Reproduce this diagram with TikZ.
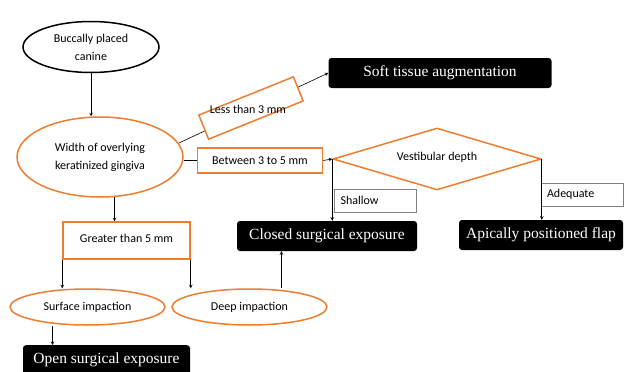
\documentclass[tikz,border=0pt]{standalone}
\usepackage{fontspec}
\setsansfont{Carlito}
\newfontfamily\resfont{Liberation Serif}
\usetikzlibrary{shapes.geometric}
\definecolor{borange}{RGB}{237,125,49}
\begin{document}
\begin{tikzpicture}[>=stealth,x=1pt,y=-1pt,
	lbl/.style={font=\sffamily\fontsize{12}{18}\selectfont,align=center},
	oval/.style={ellipse,draw=borange,line width=1.5pt,inner sep=0pt,lbl},
	obox/.style={rectangle,draw=borange,line width=1.5pt,lbl},
	gbox/.style={rectangle,draw=gray,line width=0.6pt,lbl,align=left,text width=70pt,inner sep=6pt,minimum height=23pt},
	res/.style={rectangle,rounded corners=3pt,fill=black,text=white,minimum height=30pt,font=\resfont\fontsize{15.5}{18}\selectfont},
	link/.style={line width=0.6pt}]
	\clip (0,0) rectangle (633,372);
	% nodes
	\node[ellipse,draw,line width=1.5pt,inner sep=0pt,lbl,minimum width=136pt,minimum height=51pt] (bc) at (91,47) {Buccally placed\\canine};
	\node[oval,minimum width=166pt,minimum height=80pt] (wk) at (100,157) {Width of overlying\\keratinized gingiva};
	\node[res,minimum width=223pt] (soft) at (440,73) {Soft tissue augmentation};
	\draw[link,->] (wk.10) -- (soft.west);
	\node[obox,fill=white,rotate=22,minimum width=102pt,minimum height=26pt] (lessbox) at (251,108) {};
	\node[lbl] (less) at (248,109) {Less than 3 mm};
	\node[obox,minimum width=125pt,minimum height=25pt] (btw) at (260,160.5) {Between 3 to 5 mm};
	\node[diamond,draw=borange,line width=1.5pt,inner sep=0pt,lbl,aspect=3.3,minimum width=208pt,minimum height=62pt] (vd) at (437,159) {\raisebox{6pt}{Vestibular depth}};
	\node[gbox] (shallow) at (375.5,200.5) {Shallow};
	\node[gbox] (adeq) at (582,194.5) {Adequate};
	\node[res,minimum width=180pt] (cse) at (327,236) {Closed surgical exposure};
	\node[res,minimum width=164pt] (apf) at (541,235) {Apically positioned flap};
	\node[obox,minimum width=127pt,minimum height=37pt] (gt) at (126.5,240.5) {\raisebox{4pt}{Greater than 5 mm}};
	\node[oval,minimum width=155pt,minimum height=36pt] (si) at (87.5,307) {Surface impaction};
	\node[oval,minimum width=155pt,minimum height=36pt] (dp) at (249.5,307) {Deep impaction};
	\node[res,minimum width=167pt,anchor=north] (ose) at (106.5,345) {Open surgical exposure};
	% connectors
	\draw[link,->] (bc.south) -- (bc.south |- wk.north);
	\draw[link] (wk.east |- btw.west) -- (btw.west);
	\draw[link,->] (btw.east) -- (vd.west);
	\draw[link,->] (vd.west) -- (vd.west |- cse.north);
	\draw[link,->] (vd.east) -- (vd.east |- apf.north);
	\draw[link,->] (wk.290) -- (wk.290 |- gt.north);
	\draw[link,->] (gt.south west) -- (gt.south west |- si.north);
	\draw[link,->] (gt.south east) -- (gt.south east |- dp.north);
	\draw[link,->] ([xshift=32pt]dp.north) -- ([xshift=32pt]dp.north |- cse.south);
	\draw[link,->] ([xshift=-35pt]si.south) -- ([xshift=-35pt]si.south |- ose.north);
\end{tikzpicture}
\end{document}
